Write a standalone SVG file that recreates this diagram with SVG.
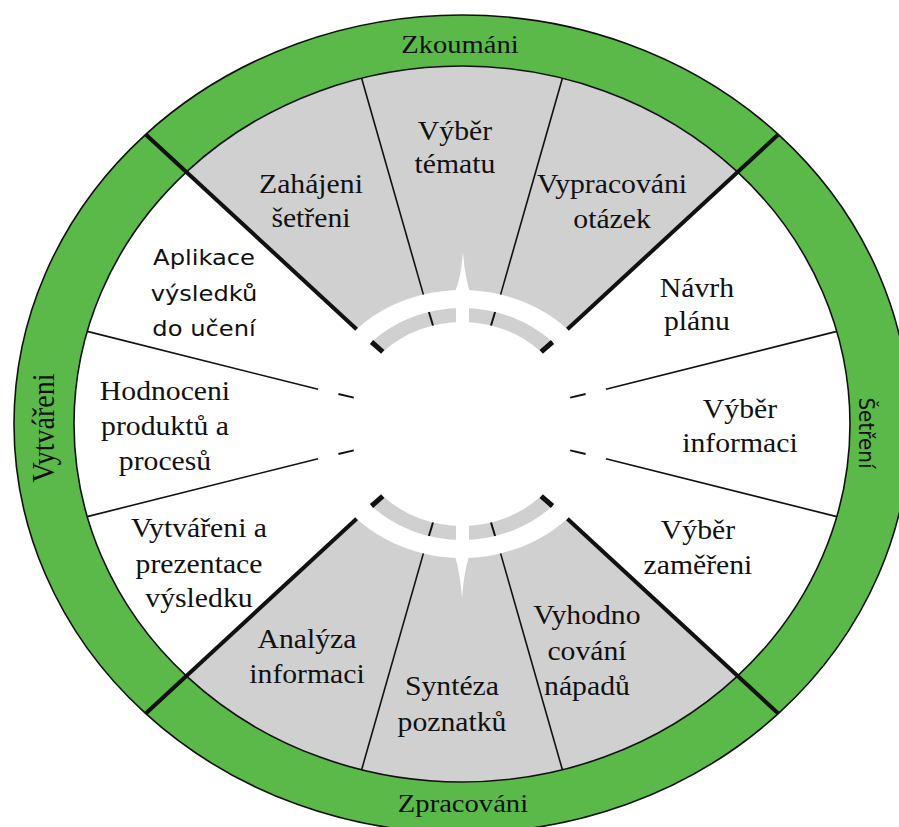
<svg xmlns="http://www.w3.org/2000/svg" width="899" height="827" viewBox="0 0 899 827">
<style>
.gray{fill:#d0d0d0}
.white{fill:#ffffff}
.thick{stroke:#111;stroke-width:4;stroke-linecap:butt;fill:none}
.thin{stroke:#111;stroke-width:1.6;fill:none}
.tick{stroke:#111;stroke-width:5;fill:none}
.dash{stroke:#111;stroke-width:2;fill:none}
.lbl{font-family:"Liberation Serif","Times New Roman",serif;font-size:27px;fill:#111;text-anchor:middle}
.sans{font-family:"DejaVu Sans","Liberation Sans",sans-serif;font-size:22px;fill:#111;text-anchor:middle}
</style>
<rect width="899" height="827" fill="#ffffff"/>
<g id="ring">
<ellipse cx="462" cy="424" rx="448" ry="409" fill="#5bb94a" stroke="#111" stroke-width="1.6"/>
<ellipse cx="462" cy="424" rx="388" ry="358" fill="#ffffff"/>
</g>
<g id="sector-zahajeni">
<path class="gray" d="M361.6 78.2 A388 358 0 0 0 187.6 170.9 L356.6 329.2 A149 134 0 0 1 423.4 294.6 Z"/>
<text class="lbl" transform="scale(1.1 1)"><tspan x="282.7" y="193">Zahájeni</tspan><tspan x="282.7" y="227">šetřeni</tspan></text>
</g>
<g id="sector-vyber-tematu">
<path class="gray" d="M562.4 78.2 A388 358 0 0 0 361.6 78.2 L423.4 294.6 A149 134 0 0 1 500.6 294.6 Z"/>
<text class="lbl" transform="scale(1.1 1)"><tspan x="413.6" y="140">Výběr</tspan><tspan x="413.6" y="173">tématu</tspan></text>
</g>
<g id="sector-vypracovani">
<path class="gray" d="M736.4 170.9 A388 358 0 0 0 562.4 78.2 L500.6 294.6 A149 134 0 0 1 567.4 329.2 Z"/>
<text class="lbl" transform="scale(1.1 1)"><tspan x="556.4" y="193">Vypracováni</tspan><tspan x="556.4" y="228">otázek</tspan></text>
</g>
<g id="sector-navrh-planu">
<text class="lbl" transform="scale(1.1 1)"><tspan x="633.6" y="297">Návrh</tspan><tspan x="633.6" y="330">plánu</tspan></text>
</g>
<g id="sector-vyber-informaci">
<text class="lbl" transform="scale(1.1 1)"><tspan x="672.7" y="418">Výběr</tspan><tspan x="672.7" y="452">informaci</tspan></text>
</g>
<g id="sector-vyber-zamereni">
<text class="lbl" transform="scale(1.1 1)"><tspan x="634.5" y="539">Výběr</tspan><tspan x="634.5" y="574">zaměřeni</tspan></text>
</g>
<g id="sector-vyhodnocovani">
<path class="gray" d="M562.4 769.8 A388 358 0 0 0 736.4 677.1 L567.4 518.8 A149 134 0 0 1 500.6 553.4 Z"/>
<text class="lbl" transform="scale(1.1 1)"><tspan x="533.6" y="624">Vyhodno</tspan><tspan x="533.6" y="660">cování</tspan><tspan x="533.6" y="695">nápadů</tspan></text>
</g>
<g id="sector-synteza">
<path class="gray" d="M361.6 769.8 A388 358 0 0 0 562.4 769.8 L500.6 553.4 A149 134 0 0 1 423.4 553.4 Z"/>
<text class="lbl" transform="scale(1.1 1)"><tspan x="410.9" y="695">Syntéza</tspan><tspan x="410.9" y="731">poznatků</tspan></text>
</g>
<g id="sector-analyza">
<path class="gray" d="M187.6 677.1 A388 358 0 0 0 361.6 769.8 L423.4 553.4 A149 134 0 0 1 356.6 518.8 Z"/>
<text class="lbl" transform="scale(1.1 1)"><tspan x="279.1" y="648">Analýza</tspan><tspan x="279.1" y="683">informaci</tspan></text>
</g>
<g id="sector-vytvareni-prezentace">
<text class="lbl" transform="scale(1.1 1)"><tspan x="180.9" y="537">Vytvářeni a</tspan><tspan x="180.9" y="573">prezentace</tspan><tspan x="180.9" y="607">výsledku</tspan></text>
</g>
<g id="sector-hodnoceni">
<text class="lbl" transform="scale(1.1 1)"><tspan x="150" y="400">Hodnoceni</tspan><tspan x="150" y="435">produktů a</tspan><tspan x="150" y="470">procesů</tspan></text>
</g>
<g id="sector-aplikace">
<text class="sans" transform="scale(1.1 1)"><tspan x="185.5" y="265">Aplikace</tspan><tspan x="185.5" y="301">výsledků</tspan><tspan x="185.5" y="336">do učení</tspan></text>
</g>
<g id="hub">
<path class="gray" d="M552.5 342 A128 116 0 0 0 371.5 342 L382.8 351.9 A112 102 0 0 1 541.2 351.9 Z"/>
<path class="gray" d="M371.5 506 A128 116 0 0 0 552.5 506 L541.2 496.1 A112 102 0 0 1 382.8 496.1 Z"/>
<rect class="white" x="456" y="296" width="13" height="34"/>
<rect class="white" x="456" y="518" width="13" height="34"/>
<path class="white" d="M463 252 Q461 278 455 292 L470 292 Q465 278 463 252 Z"/>
<path class="white" d="M462 598 Q460 572 455 556 L469 556 Q464 572 462 598 Z"/>
</g>
<ellipse cx="462" cy="424" rx="388" ry="358" fill="none" stroke="#111" stroke-width="1.6"/>
<g id="connectors">
<line class="thick" x1="778" y1="134.8" x2="567.4" y2="329.2"/>
<line class="thick" x1="146" y1="134.8" x2="356.6" y2="329.2"/>
<line class="thick" x1="146" y1="713.2" x2="356.6" y2="518.8"/>
<line class="thick" x1="778" y1="713.2" x2="567.4" y2="518.8"/>
<line class="thin" x1="836.8" y1="331.4" x2="605.9" y2="389.3"/>
<line class="thin" x1="562.4" y1="78.2" x2="500.6" y2="294.6"/>
<line class="thin" x1="361.6" y1="78.2" x2="423.4" y2="294.6"/>
<line class="thin" x1="87.2" y1="331.4" x2="318.1" y2="389.3"/>
<line class="thin" x1="87.2" y1="516.6" x2="318.1" y2="458.7"/>
<line class="thin" x1="361.6" y1="769.8" x2="423.4" y2="553.4"/>
<line class="thin" x1="562.4" y1="769.8" x2="500.6" y2="553.4"/>
<line class="thin" x1="836.8" y1="516.6" x2="605.9" y2="458.7"/>
<line class="dash" x1="570.2" y1="397.6" x2="585.6" y2="394"/>
<line class="dash" x1="353.8" y1="397.6" x2="338.4" y2="394"/>
<line class="dash" x1="353.8" y1="450.4" x2="338.4" y2="454"/>
<line class="dash" x1="570.2" y1="450.4" x2="585.6" y2="454"/>
<line class="dash" x1="491" y1="325.5" x2="495.1" y2="312"/>
<line class="dash" x1="433" y1="325.5" x2="428.9" y2="312"/>
<line class="dash" x1="433" y1="522.5" x2="428.9" y2="536"/>
<line class="dash" x1="491" y1="522.5" x2="495.1" y2="536"/>
<line class="tick" x1="541.2" y1="351.9" x2="552.5" y2="342"/>
<line class="tick" x1="382.8" y1="351.9" x2="371.5" y2="342"/>
<line class="tick" x1="382.8" y1="496.1" x2="371.5" y2="506"/>
<line class="tick" x1="541.2" y1="496.1" x2="552.5" y2="506"/>
</g>
<g id="phase-zkoumani">
<text class="lbl" style="font-size:26px" transform="scale(1.1 1)" x="418.2" y="53">Zkoumáni</text>
</g>
<g id="phase-setreni">
<text class="sans" style="font-size:20px" transform="scale(1.1 1) translate(780.9 433) rotate(90)" x="0" y="0">Šetření</text>
</g>
<g id="phase-zpracovani">
<text class="lbl" style="font-size:26px" transform="scale(1.1 1)" x="420.9" y="812">Zpracováni</text>
</g>
<g id="phase-vytvareni">
<text class="lbl" style="font-size:28px" transform="scale(1.1 1) translate(49.1 428) rotate(-90)" x="0" y="0">Vytvářeni</text>
</g>
</svg>
